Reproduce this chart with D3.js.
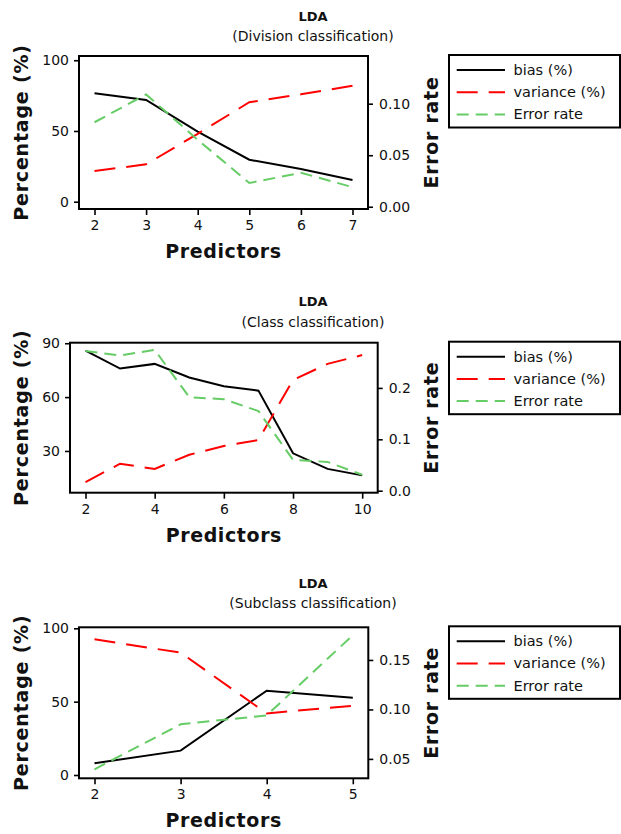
<!DOCTYPE html>
<html>
<head>
<meta charset="utf-8">
<script src="https://cdn.jsdelivr.net/npm/d3@7"></script>
<style>
  body { margin: 0; background: #fff; }
  text { font-family: "DejaVu Sans", Verdana, sans-serif; fill: #111; }
  .tick text { font-size: 14px; }
</style>
</head>
<body>
<svg id="chart" width="621" height="834"></svg>
<script>
// ---- data ----
const divX = [2, 3, 4, 5, 6, 7];
const divBias = [76.7, 71.9, 49.5, 29.7, 23.1, 15.3];
const divVariance = [21.7, 26.4, 48.0, 70.3, 75.9, 82.0];
const divError = [0.082, 0.109, 0.065, 0.023, 0.033, 0.019];

const classX = [2, 3, 4, 5, 6, 7, 8, 9, 10];
const classBias = [85.9, 75.9, 78.5, 70.9, 66.1, 63.6, 28.7, 20.0, 16.4];
const classVariance = [12.7, 22.9, 20.0, 27.9, 32.8, 36.1, 69.6, 78.5, 83.4];
const classError = [0.272, 0.263, 0.274, 0.182, 0.178, 0.155, 0.060, 0.056, 0.031];

const subX = [2, 3, 4, 5];
const subBias = [8.0, 16.6, 57.5, 52.7];
const subVariance = [92.5, 83.4, 42.0, 47.2];
const subError = [0.0395, 0.085, 0.094, 0.175];

const legendLabels = ["bias (%)", "variance (%)", "Error rate"];
const subtitles = ["(Division classification)", "(Class classification)", "(Subclass classification)"];

const divTicksL = [0, 50, 100], divTicksR = [0, 0.05, 0.10];
const classTicksL = [30, 60, 90], classTicksR = [0, 0.1, 0.2];
const subTicksL = [0, 50, 100], subTicksR = [0.05, 0.10, 0.15];

// ---- layout ----
const panels = [
  { x: divX, bias: divBias, variance: divVariance, err: divError,
    ticksL: divTicksL, ticksR: divTicksR, xTicks: divX, fmtR: ".2f",
    left: 79, right: 368, top: 56, bottom: 209,
    domL: [-5.16, 103.0], domR: [-0.0022, 0.1463],
    titleY: 21, subY: 40.5, sub: subtitles[0] },
  { x: classX, bias: classBias, variance: classVariance, err: classError,
    ticksL: classTicksL, ticksR: classTicksR, xTicks: [2, 4, 6, 8, 10], fmtR: ".1f",
    left: 70, right: 377.7, top: 342.7, bottom: 492.7,
    domL: [6.75, 90.3], domR: [-0.0039, 0.288],
    titleY: 306, subY: 326.5, sub: subtitles[1] },
  { x: subX, bias: subBias, variance: subVariance, err: subError,
    ticksL: subTicksL, ticksR: subTicksR, xTicks: subX, fmtR: ".2f",
    left: 79, right: 368.3, top: 627.3, bottom: 778.3,
    domL: [-2.25, 100.7], domR: [0.0304, 0.183],
    titleY: 587.5, subY: 607.5, sub: subtitles[2] }
];

const styles = [
  { color: "#000000", dash: null },
  { color: "#ff0000", dash: "21,11" },
  { color: "#66cc66", dash: "12,7" }
];

const svg = d3.select("#chart");

panels.forEach(p => {
  const g = svg.append("g");
  const xPad = 15.5;

  const x = d3.scaleLinear()
    .domain([d3.min(p.x), d3.max(p.x)])
    .range([p.left + xPad, p.right - xPad]);
  const yL = d3.scaleLinear().domain(p.domL).range([p.bottom, p.top]);
  const yR = d3.scaleLinear().domain(p.domR).range([p.bottom, p.top]);

  // titel
  g.append("text").attr("x", 313).attr("y", p.titleY)
    .attr("text-anchor", "middle").attr("font-weight", "bold")
    .attr("font-size", 13).text("LDA");
  g.append("text").attr("x", 313).attr("y", p.subY)
    .attr("text-anchor", "middle").attr("font-size", 14).text(p.sub);

  // achsen
  const axL = g.append("g").attr("transform", `translate(${p.left},0)`)
    .call(d3.axisLeft(yL).tickValues(p.ticksL).tickSize(5).tickPadding(5).tickFormat(d3.format("d")));
  const axR = g.append("g").attr("transform", `translate(${p.right},0)`)
    .call(d3.axisRight(yR).tickValues(p.ticksR).tickSize(5).tickPadding(6).tickFormat(d3.format(p.fmtR)));
  const axB = g.append("g").attr("transform", `translate(0,${p.bottom})`)
    .call(d3.axisBottom(x).tickValues(p.xTicks).tickSize(6).tickPadding(5).tickFormat(d3.format("d")));

  [axL, axR, axB].forEach(a => {
    a.select(".domain").remove();
    a.selectAll(".tick line").attr("stroke", "#000").attr("stroke-width", 1.6);
    a.selectAll(".tick text").attr("fill", "#111")
      .style("font-size", "14px").style("font-family", "DejaVu Sans");
  });

  // linien
  const series = [p.bias, p.variance, p.err];
  series.forEach((vals, i) => {
    const yS = i === 2 ? yR : yL;
    const line = d3.line().x((d, j) => x(p.x[j])).y(d => yS(d));
    g.append("path").datum(vals)
      .attr("d", line)
      .attr("fill", "none")
      .attr("stroke", styles[i].color)
      .attr("stroke-width", 2)
      .attr("stroke-dasharray", styles[i].dash);
  });

  // rahmen
  g.append("rect")
    .attr("x", p.left).attr("y", p.top)
    .attr("width", p.right - p.left).attr("height", p.bottom - p.top)
    .attr("fill", "none").attr("stroke", "#000").attr("stroke-width", 2);

  // achsentitel
  const midY = (p.top + p.bottom) / 2;
  g.append("text")
    .attr("transform", `translate(28,${midY}) rotate(-90)`)
    .attr("text-anchor", "middle").attr("font-weight", "bold")
    .attr("font-size", 19).attr("letter-spacing", 0.8)
    .text("Percentage (%)");
  g.append("text")
    .attr("transform", `translate(437.5,${midY}) rotate(-90)`)
    .attr("text-anchor", "middle").attr("font-weight", "bold")
    .attr("font-size", 19).attr("letter-spacing", 0.7)
    .text("Error rate");
  g.append("text")
    .attr("x", (p.left + p.right) / 2).attr("y", p.bottom + 49)
    .attr("text-anchor", "middle").attr("font-weight", "bold")
    .attr("font-size", 19).attr("letter-spacing", 0.6)
    .text("Predictors");

  // legende
  const lg = g.append("g").attr("transform", `translate(449,${p.top - 1})`);
  lg.append("rect").attr("x", 0).attr("y", 0).attr("width", 171).attr("height", 72.5)
    .attr("fill", "#fff").attr("stroke", "#000").attr("stroke-width", 2);
  legendLabels.forEach((lab, i) => {
    const yy = 15 + i * 22.2;
    lg.append("line").attr("x1", 7.7).attr("x2", 56).attr("y1", yy).attr("y2", yy)
      .attr("stroke", styles[i].color).attr("stroke-width", 2)
      .attr("stroke-dasharray", styles[i].dash);
    lg.append("text").attr("x", 64.5).attr("y", yy + 5)
      .attr("font-size", 14.5).text(lab);
  });
});
</script>
</body>
</html>
